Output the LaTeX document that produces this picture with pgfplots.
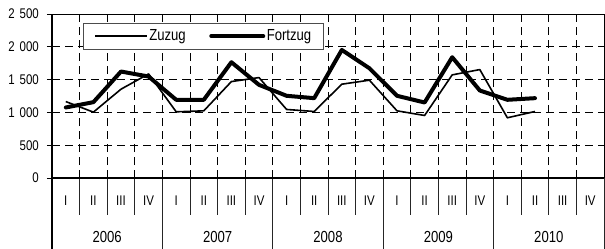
\documentclass[border=0pt]{standalone}
\usepackage{pgfplots}
\pgfplotsset{compat=1.18}
\usepackage{fontspec}
\setmainfont{Liberation Sans}[FakeStretch=0.82]
\newcommand\sz[1]{\fontsize{#1bp}{#1bp}\selectfont}
\begin{document}
\begin{tikzpicture}[font=\sz{14}]
\useasboundingbox (-52bp,-71bp) rectangle (553bp,178bp);
\begin{axis}[
  at={(0,0)}, anchor=south west,
  scale only axis, width=552bp, height=164bp,
  xmin=0, xmax=20, ymin=0, ymax=2500,
  clip=false,
  axis line style={line width=1bp, black},
  xtick={0.5,1.5,...,19.5},
  xticklabels={I,II,III,IV,I,II,III,IV,I,II,III,IV,I,II,III,IV,I,II,III,IV},
  xtick style={draw=none},
  minor xtick={1,2,...,19},
  minor tick length=0pt,
  xminorgrids=true,
  xmajorgrids=false,
  ytick={0,500,1000,1500,2000,2500},
  yticklabels={0,500,1\hspace{5bp}000,1\hspace{5bp}500,2\hspace{5bp}000,2\hspace{5bp}500},
  ymajorgrids=true,
  ytick pos=left,
  tick align=center,
  major tick length=10bp,
  ytick style={line width=0.9bp, black},
  major grid style={black, line width=0.9bp, dash pattern=on 8bp off 5bp},
  minor grid style={black, line width=0.9bp, dash pattern=on 8bp off 5bp},
  xticklabel style={anchor=base, yshift=-22.5bp, font=\sz{14}},
  yticklabel style={anchor=east, inner sep=0pt, xshift=-8bp, font=\sz{14}},
  legend columns=2,
  legend style={at={(0.056,0.945)}, anchor=north west, draw=black!70, line width=0.6bp,
    fill=white, inner xsep=11bp, inner ysep=5bp,
    font=\sz{16},
    nodes={inner sep=1.5bp},
    /tikz/every even column/.append style={column sep=22bp}},
  legend image code/.code={\draw[#1] (0bp,0bp) -- (52bp,0bp);},
]
\addplot[black, line width=1.6bp, line join=round] coordinates {
(0.5,1165) (1.5,1004) (2.5,1354) (3.5,1587)
(4.5,1009) (5.5,1024) (6.5,1470) (7.5,1531)
(8.5,1045) (9.5,1014) (10.5,1430) (11.5,1491)
(12.5,1024) (13.5,953) (14.5,1572) (15.5,1653)
(16.5,918) (17.5,1014)};
\addlegendentry{Zuzug}
\addplot[black, line width=4bp, line join=round, line cap=round] coordinates {
(0.5,1075) (1.5,1156) (2.5,1623) (3.5,1547)
(4.5,1192) (5.5,1192) (6.5,1765) (7.5,1420)
(8.5,1253) (9.5,1217) (10.5,1952) (11.5,1673)
(12.5,1253) (13.5,1151) (14.5,1841) (15.5,1334)
(16.5,1192) (17.5,1217)};
\addlegendentry{Fortzug}
\pgfplotsinvokeforeach{1,2,3,5,6,7,9,10,11,13,14,15,17,18,19}{
  \draw[black!85, line width=0.8bp] (axis cs:#1,0) -- ++(0,-37bp);
}
\pgfplotsinvokeforeach{4,8,12,16,20}{
  \draw[black!85, line width=0.8bp] (axis cs:#1,0) -- ++(0,-71bp);
}
\draw[black, line width=1.8bp] (axis cs:0,2500) -- (axis cs:0,0) -- ++(0,-71bp);
\draw[black, line width=1.3bp] (axis cs:0,0) -- (axis cs:20,0);
\node[anchor=base, font=\sz{16}] at ([yshift=-64bp]axis cs:2,0) {2006};
\node[anchor=base, font=\sz{16}] at ([yshift=-64bp]axis cs:6,0) {2007};
\node[anchor=base, font=\sz{16}] at ([yshift=-64bp]axis cs:10,0) {2008};
\node[anchor=base, font=\sz{16}] at ([yshift=-64bp]axis cs:14,0) {2009};
\node[anchor=base, font=\sz{16}] at ([yshift=-64bp]axis cs:18,0) {2010};
\end{axis}
\end{tikzpicture}
\end{document}
